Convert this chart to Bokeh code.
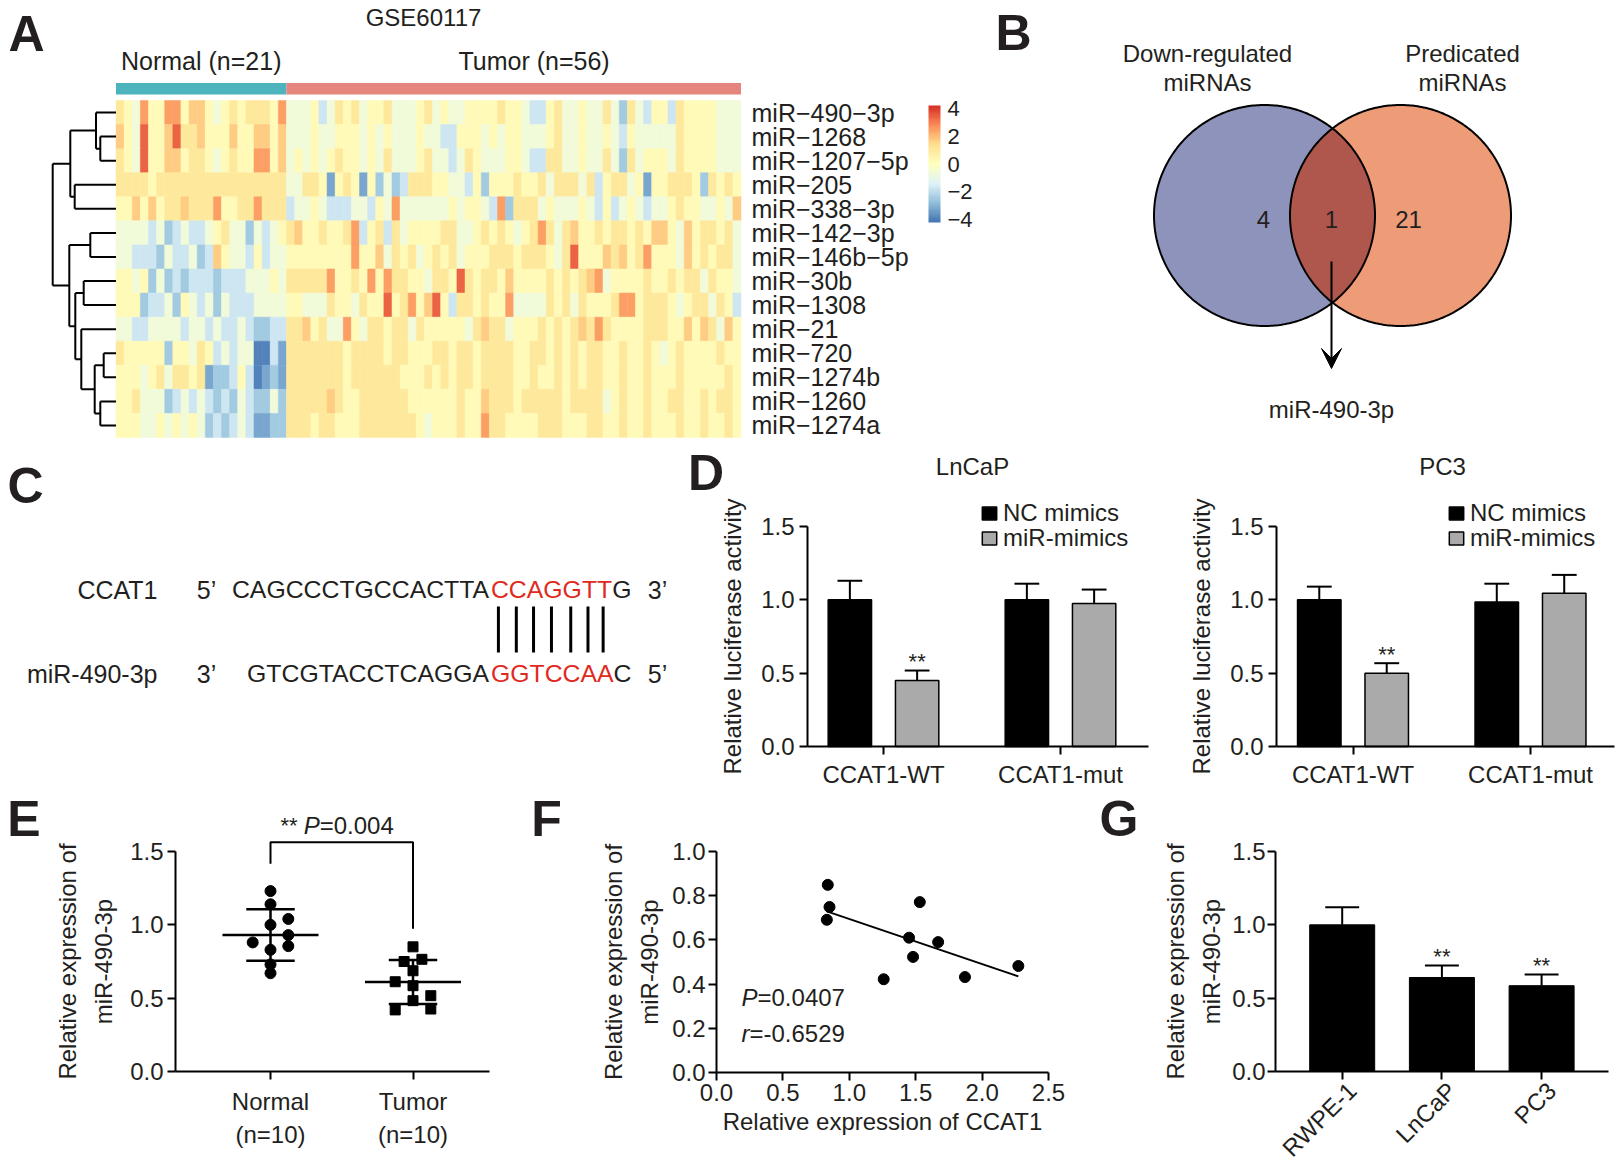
import numpy as np
from bokeh.plotting import figure
from bokeh.models import (Range1d, FixedTicker, PrintfTickFormatter, Label, Legend,
                          LegendItem, LinearColorMapper, ColorBar, Arrow, VeeHead,
                          ColumnDataSource, LinearAxis, AllLabels)
from bokeh.layouts import row, column
from bokeh.embed import file_html
from bokeh.resources import INLINE
from bokeh.core.properties import value

FONT = "Liberation Sans"
INK = "#231F20"
RED = "#E02A1E"

# ======================= DATA =======================
# --- A: heatmap (GSE60117) ---
dataset_id = "GSE60117"
group_names = ["Normal", "Tumor"]
group_sizes = [21, 56]
group_colors = ["#4DB3BD", "#E6857D"]
mirna_rows = ["miR−490−3p", "miR−1268", "miR−1207−5p", "miR−205", "miR−338−3p",
              "miR−142−3p", "miR−146b−5p", "miR−30b", "miR−1308", "miR−21",
              "miR−720", "miR−1274b", "miR−1260", "miR−1274a"]
# one character per sample (21 normal + 56 tumour)
heat_codes = [
    "654855885775456566658" "44453465645564445645" "445555655433564454" "464264355365555444",
    "754955796675557557757" "44454455545454445443" "355545455444564454" "454354444465555444",
    "654955775665456558857" "45454565545464445644" "346544455433664454" "464264555465555444",
    "666656666666666666666" "44665156515242366655" "443525556556466646" "356645155666526565",
    "557575667666855668666" "34454333443548444444" "545543826664544454" "353454344565544547",
    "444434234334564424345" "67556556835636455556" "644565654568646755" "656656577547566564",
    "443332433423754435344" "55555555855746564565" "645556665666546955" "576756855547565664",
    "554524232333233344454" "66666855658586655466" "596566575555656567" "845555655656646554",
    "555233425434243334444" "55444655465595685795" "366565584444656465" "556885666545664653",
    "443344443443433432233" "66756448546656646555" "554676645556565676" "865555666557576475",
    "655555255465343440031" "66666665666656655566" "566566665566565656" "655655654565555655",
    "555456466561223530121" "66666665666666555656" "566566665565565656" "655655655565555565",
    "556444234343232432242" "66666765566666655555" "565576665666665666" "645655655665565665",
    "555445454542323431122" "66656655566666665455" "565586655556665556" "655655655565565565",
]
code_values = {"0": -3.9, "1": -3.2, "2": -2.5, "3": -1.7, "4": -0.6,
               "5": 0.2, "6": 1.05, "7": 1.7, "8": 2.5, "9": 3.4}
# row dendrogram: (child a, child b, merge height); leaves 0..13, new nodes 14..
dendro_merges = [(1, 2, 15.7), (0, 14, 20.0), (3, 4, 41.3), (15, 16, 45.7),
                 (5, 6, 25.7), (7, 8, 32.3), (10, 11, 12.3), (12, 13, 15.7),
                 (20, 21, 21.3), (9, 22, 34.7), (19, 23, 40.7), (18, 24, 46.7),
                 (17, 25, 63.3)]
colorbar_ticks = [-4, -2, 0, 2, 4]

# --- B: Venn ---
venn_sets = ["Down-regulated\nmiRNAs", "Predicated\nmiRNAs"]
venn_counts = [4, 1, 21]          # only A, both, only B
venn_hit = "miR-490-3p"

# --- C: binding site ---
ccat1_name = "CCAT1"
ccat1_seq = "CAGCCCTGCCACTTACCAGGTTG"
ccat1_seed = (15, 22)
mir_name = "miR-490-3p"
mir_seq = "GTCGTACCTCAGGAGGTCCAAC"
mir_seed = (14, 21)

# --- D: luciferase ---
d_groups = ["CCAT1-WT", "CCAT1-mut"]
d_series = ["NC mimics", "miR-mimics"]
lncap_nc = [1.00, 1.00]
lncap_nc_sd = [0.13, 0.11]
lncap_mir = [0.45, 0.975]
lncap_mir_sd = [0.068, 0.095]
lncap_sig = ["**", ""]
pc3_nc = [1.00, 0.985]
pc3_nc_sd = [0.09, 0.125]
pc3_mir = [0.50, 1.045]
pc3_mir_sd = [0.068, 0.125]
pc3_sig = ["**", ""]

# --- E: tissue expression ---
e_labels = ["Normal\n(n=10)", "Tumor\n(n=10)"]
e_normal = [1.23, 1.14, 1.04, 1.00, 0.93, 0.88, 0.855, 0.83, 0.73, 0.67]
e_normal_slot = [0, 0, 2, 0, 2, -2, 2, 0, 0, 0]
e_tumor = [0.85, 0.75, 0.765, 0.687, 0.612, 0.585, 0.517, 0.483, 0.42, 0.426]
e_tumor_slot = [0, -1, 1, 0, -2, 0, 2, 0, -2, 2]
e_sig = "**"
e_pvalue = "0.004"

# --- F: correlation ---
f_ccat1 = [0.838, 0.851, 0.831, 1.531, 1.450, 1.669, 1.480, 1.259, 1.871, 2.273]
f_mir = [0.849, 0.749, 0.691, 0.771, 0.610, 0.590, 0.523, 0.422, 0.432, 0.482]
f_p = "0.0407"
f_r = "-0.6529"

# --- G: cell lines ---
g_cells = ["RWPE-1", "LnCaP", "PC3"]
g_mean = [1.00, 0.641, 0.585]
g_sd = [0.12, 0.082, 0.077]
g_sig = ["", "**", "**"]

# ======================= HELPERS =======================
ARIAL = {"A": .667, "C": .722, "G": .778, "T": .611, " ": .278, "*": .389, "P": .667,
         "=": .584, ".": .278, "-": .333, "r": .333}
ROW2_TOP, ROW3_TOP, BOTTOM = 445, 789, 1167
STAR_GAP = 0.06


def tw(s, fs):
    return sum(ARIAL.get(ch, .556) for ch in s) * fs


def canvas_fig(width, height, xr, yr):
    return figure(width=width, height=height, x_range=xr, y_range=yr,
                  x_axis_type=None, y_axis_type=None, output_backend="svg",
                  toolbar_location=None, min_border=0, outline_line_color=None,
                  background_fill_color="white", border_fill_color="white")


def chart(fig_l, fig_r, fig_t, fig_b, xref0, xval0, pxx, yref0, pxy):
    """Figure whose frame is the whole box; data <-> reference-pixel mapping."""
    xr = Range1d(xval0 + (fig_l - xref0) / pxx, xval0 + (fig_r - xref0) / pxx)
    yr = Range1d((yref0 - fig_b) / pxy, (yref0 - fig_t) / pxy)
    p = canvas_fig(int(fig_r - fig_l), int(fig_b - fig_t), xr, yr)

    def fx(r):
        return xval0 + (r - xref0) / pxx

    def fy(r):
        return (yref0 - r) / pxy
    return p, fx, fy


def style_axis(ax, fs="24px"):
    ax.axis_line_width = 2
    ax.axis_line_color = "black"
    ax.major_tick_line_width = 2
    ax.major_tick_line_color = "black"
    ax.major_tick_out = 8
    ax.major_tick_in = 0
    ax.minor_tick_line_color = None
    ax.major_label_text_font = FONT
    ax.major_label_text_font_size = fs
    ax.major_label_text_color = INK
    ax.major_label_text_line_height = 1.25
    ax.axis_label_text_font = FONT
    ax.axis_label_text_font_size = "24px"
    ax.axis_label_text_font_style = "normal"
    ax.axis_label_text_color = INK
    ax.axis_label_text_line_height = 1.35


def add_axes(p, x_at, x_bounds, xticks, y_at, y_bounds, yticks):
    xa = LinearAxis(fixed_location=x_at, bounds=x_bounds, ticker=FixedTicker(ticks=xticks))
    ya = LinearAxis(fixed_location=y_at, bounds=y_bounds, ticker=FixedTicker(ticks=yticks),
                    formatter=PrintfTickFormatter(format="%.1f"))
    style_axis(xa)
    style_axis(ya)
    p.add_layout(xa, "below")
    p.add_layout(ya, "left")
    return xa, ya


def txt(p, x, y, text, size="24px", align="center", baseline="middle",
        color=INK, style="normal", angle=0.0):
    p.text(x=list(x), y=list(y), text=list(text), text_font=value(FONT),
           text_font_size=value(size), text_align=align, text_baseline=baseline,
           text_color=color, text_font_style=style, angle=angle)


def lab(p, x, y, text, size="24px", align="center", baseline="middle",
        style="normal", xoff=0):
    p.add_layout(Label(x=x, y=y, text=text, text_font=FONT, text_font_size=size,
                       text_align=align, text_baseline=baseline, text_color=INK,
                       text_font_style=style, x_offset=xoff))


def legend1(p, label, rend, x, y):
    p.add_layout(Legend(items=[LegendItem(label=label, renderers=[rend])],
                        location=(x, y), padding=0, margin=0, spacing=0,
                        glyph_width=18, glyph_height=16, label_standoff=5,
                        label_text_font=FONT, label_text_font_size="24px",
                        label_text_color=INK, background_fill_alpha=0,
                        border_line_color=None))


# palette (RdYlBu, reversed)
rdylbu = ["#4575B4", "#91BFDB", "#E0F3F8", "#FFFFBF", "#FEE090", "#FC8D59", "#D73027"]
anchors = np.array([[int(c[i:i + 2], 16) for i in (1, 3, 5)] for c in rdylbu], float)
pal = []
for v in np.linspace(0, 6, 100):
    i = min(int(v), 5)
    f = v - i
    c = anchors[i] * (1 - f) + anchors[i + 1] * f
    pal.append("#%02X%02X%02X" % tuple(int(round(q)) for q in c))
mapper = LinearColorMapper(palette=pal, low=-4.2, high=4.2)

# ======================= A =======================
CW, RH = 8.117, 24.07
HX0, HY0 = 115.5, 100.0


def axa(r):
    return (r - HX0) / CW


def aya(r):
    return (r - HY0) / RH


pa = canvas_fig(978, ROW2_TOP, Range1d(axa(0), axa(978)), Range1d(aya(ROW2_TOP), aya(0)))
n_cols = sum(group_sizes)
xs, ys, vs = [], [], []
for r, codes in enumerate(heat_codes):
    for c, ch in enumerate(codes[:n_cols]):
        xs.append(c + 0.5)
        ys.append(r + 0.5)
        vs.append(code_values[ch])
src = ColumnDataSource(dict(x=xs, y=ys, v=vs))
pa.rect(x="x", y="y", width=1, height=1, source=src,
        fill_color={"field": "v", "transform": mapper},
        line_color={"field": "v", "transform": mapper}, line_width=0.5)

starts = np.cumsum([0] + group_sizes[:-1])
bar_c = [s + n / 2 for s, n in zip(starts, group_sizes)]
pa.rect(x=bar_c, y=[aya(88.25)] * 2, width=group_sizes, height=[11.5 / RH] * 2,
        fill_color=group_colors, line_color=None)
nudge = [0, 2.5]
txt(pa, [c + d for c, d in zip(bar_c, nudge)], [aya(60)] * 2,
    [f"{g} (n={n})" for g, n in zip(group_names, group_sizes)], size="25px")
txt(pa, [axa(423)], [aya(17)], [dataset_id], size="24px")
txt(pa, [n_cols + 10.5 / CW] * len(mirna_rows), [i + 0.5 for i in range(len(mirna_rows))],
    mirna_rows, size="25px", align="left")

# dendrogram
node_y = {i: i + 0.5 for i in range(len(mirna_rows))}
node_h = {i: 0.0 for i in range(len(mirna_rows))}
x0s, y0s, x1s, y1s = [], [], [], []
for k, (a, b, h) in enumerate(dendro_merges):
    nid = len(mirna_rows) + k
    hx = -h / CW
    x0s += [hx, -node_h[a] / CW, -node_h[b] / CW]
    x1s += [hx, hx, hx]
    y0s += [node_y[a], node_y[a], node_y[b]]
    y1s += [node_y[b], node_y[a], node_y[b]]
    node_y[nid] = (node_y[a] + node_y[b]) / 2
    node_h[nid] = h
pa.segment(x0=x0s, y0=y0s, x1=x1s, y1=y1s, line_color="black", line_width=2)

cb = ColorBar(color_mapper=mapper, location=(928, ROW2_TOP - 222), width=12, height=117,
              padding=0, margin=0, ticker=FixedTicker(ticks=colorbar_ticks),
              major_label_overrides={t: str(t).replace("-", "−") for t in colorbar_ticks},
              major_label_policy=AllLabels(),
              major_tick_line_color=None, label_standoff=7, bar_line_color=None,
              border_line_color=None, background_fill_color=None,
              major_label_text_font=FONT, major_label_text_font_size="22px",
              major_label_text_color=INK)
pa.add_layout(cb)
txt(pa, [axa(26)], [aya(33)], ["A"], size="50px", style="bold")

# ======================= B =======================
pb = canvas_fig(638, ROW2_TOP, Range1d(978, 1616), Range1d(ROW2_TOP, 0))
cxL, cxR, cy, rad = 1264.0, 1400.0, 215.0, 110.5
th = np.linspace(0, 2 * np.pi, 361)
pb.patch(cxL + rad * np.cos(th), cy + rad * np.sin(th), fill_color="#8E93BB", line_color=None)
pb.patch(cxR + rad * np.cos(th), cy + rad * np.sin(th), fill_color="#EE9B78", line_color=None)
al = np.arccos((cxR - cxL) / 2 / rad)
t1 = np.linspace(-al, al, 120)
t2 = np.linspace(np.pi - al, np.pi + al, 120)
pb.patch(np.concatenate([cxL + rad * np.cos(t1), cxR + rad * np.cos(t2)]),
         np.concatenate([cy + rad * np.sin(t1), cy + rad * np.sin(t2)]),
         fill_color="#AF574C", line_color=None)
for cx in (cxL, cxR):
    pb.line(cx + rad * np.cos(th), cy + rad * np.sin(th), line_color="black", line_width=2)
for name, x in zip(venn_sets, [1207, 1462]):
    lines = name.split("\n")
    txt(pb, [x] * len(lines), [53 + 29 * i for i in range(len(lines))], lines, size="24px")
txt(pb, [1263, 1331, 1408], [219] * 3, [str(c) for c in venn_counts], size="24px")
pb.add_layout(Arrow(end=VeeHead(size=20, fill_color="black", line_color="black", line_width=1),
                    x_start=1331, y_start=261, x_end=1331, y_end=368,
                    line_width=2, line_color="black"))
txt(pb, [1331], [409], [venn_hit], size="24px")
txt(pb, [1013], [32], ["B"], size="50px", style="bold")

# ======================= C =======================
pc = canvas_fig(680, ROW3_TOP - ROW2_TOP, Range1d(0, 680), Range1d(ROW3_TOP, ROW2_TOP))
SEQ_FS = 24.8
x_end = 631.0
for seq, seed, yv in [(ccat1_seq, ccat1_seed, 589), (mir_seq, mir_seed, 673)]:
    pieces = [(seq[:seed[0]], INK), (seq[seed[0]:seed[1]], RED), (seq[seed[1]:], INK)]
    xl = x_end - tw(seq, SEQ_FS)
    for s, col in pieces:
        txt(pc, [xl], [yv], [s], size=f"{SEQ_FS}px", align="left", color=col)
        xl += tw(s, SEQ_FS)
red_left = x_end - tw(ccat1_seq[ccat1_seed[0]:], SEQ_FS)
centers = []
acc = red_left
for ch in ccat1_seq[ccat1_seed[0]:ccat1_seed[1]]:
    centers.append(acc + tw(ch, SEQ_FS) / 2 - 1.5)
    acc += tw(ch, SEQ_FS)
pc.segment(x0=centers, y0=[606] * len(centers), x1=centers, y1=[652] * len(centers),
           line_color="black", line_width=3)
txt(pc, [157, 157], [589, 673], [ccat1_name, mir_name], size="25px", align="right")
txt(pc, [206, 657, 206, 657], [589, 589, 673, 673], ["5’", "3’", "3’", "5’"], size="25px")
txt(pc, [25], [485.5], ["C"], size="50px", style="bold")


# ======================= D =======================
def make_d(fig_l, fig_r, axis_l, axis_r, tick_ref, spacing, title, nc, nc_sd, mir, mir_sd,
           sig, legend_ref_x, letter=None):
    p, fx, fy = chart(fig_l, fig_r, ROW2_TOP, ROW3_TOP, tick_ref, 0.0, spacing, 746.0, 220 / 1.5)
    gx = np.arange(len(d_groups))
    ncx = gx - 0.19
    mrx = gx + 0.19
    r_nc = p.vbar(x=ncx, top=nc, width=0.245, fill_color="black", line_color="black", line_width=1.5)
    r_mr = p.vbar(x=mrx, top=mir, width=0.245, fill_color="#AAAAAA", line_color="black", line_width=1.5)
    for xx, tops, sds in [(ncx, nc, nc_sd), (mrx, mir, mir_sd)]:
        hi = [t + s for t, s in zip(tops, sds)]
        p.segment(x0=xx, y0=tops, x1=xx, y1=hi, line_color="black", line_width=2)
        p.segment(x0=xx - 0.07, y0=hi, x1=xx + 0.07, y1=hi, line_color="black", line_width=2)
    sx = [x for x, s in zip(mrx, sig) if s]
    sy = [t + s + STAR_GAP for t, s, g in zip(mir, mir_sd, sig) if g]
    txt(p, sx, sy, [g for g in sig if g], size="22px", baseline="alphabetic")
    xa, ya = add_axes(p, 0, (fx(axis_l), fx(axis_r)), list(gx), fx(axis_l), (0, 1.5),
                      [0, 0.5, 1.0, 1.5])
    xa.major_label_overrides = {int(i): g for i, g in zip(gx, d_groups)}
    xa.major_label_standoff = 6
    ya.major_label_standoff = 5
    ya.axis_label = "Relative luciferase activity"
    ya.axis_label_standoff = 12
    lx = legend_ref_x - fig_l
    legend1(p, d_series[0], r_nc, lx, ROW3_TOP - 526.75)
    legend1(p, d_series[1], r_mr, lx, ROW3_TOP - 552.25)
    lab(p, fx(title[1]), fy(466), title[0])
    if letter:
        lab(p, fx(letter[1]), fy(472.5), letter[0], size="50px", style="bold")
    return p


pd1 = make_d(680, 1160, 807, 1148, 883.0, 177.0, ("LnCaP", 972), lncap_nc, lncap_nc_sd,
             lncap_mir, lncap_mir_sd, lncap_sig, 980, letter=("D", 705.5))
pd2 = make_d(1160, 1616, 1276, 1614, 1352.5, 177.5, ("PC3", 1442), pc3_nc, pc3_nc_sd,
             pc3_mir, pc3_mir_sd, pc3_sig, 1447)

# ======================= E =======================
pe, ex, ey = chart(0, 530, ROW3_TOP, BOTTOM, 270.0, 1.0, 142.5, 1071.0, 220 / 1.5)
slot_w = 0.0625
for k, (vals, slots, mk, sz) in enumerate([(e_normal, e_normal_slot, "circle", 11),
                                          (e_tumor, e_tumor_slot, "square", 10)]):
    cx = k + 1
    pe.scatter([cx + s * slot_w for s in slots], vals, marker=mk, size=sz,
               fill_color="black", line_color="black")
    m = float(np.mean(vals))
    sd = float(np.std(vals, ddof=1))
    pe.segment(x0=[cx - 0.337], y0=[m], x1=[cx + 0.337], y1=[m], line_color="black", line_width=2.5)
    pe.segment(x0=[cx - 0.17] * 2, y0=[m + sd, m - sd], x1=[cx + 0.17] * 2, y1=[m + sd, m - sd],
               line_color="black", line_width=2.5)
    pe.segment(x0=[cx], y0=[m - sd], x1=[cx], y1=[m + sd], line_color="black", line_width=2.5)
pe.line(x=[1, 1, 2, 2], y=[1.416, 1.563, 1.563, 0.973], line_color="black", line_width=2)
xa, ya = add_axes(pe, 0, (ex(175), ex(489)), [1, 2], ex(175), (0, 1.5), [0, 0.5, 1.0, 1.5])
xa.major_label_overrides = {1: e_labels[0], 2: e_labels[1]}
xa.major_label_standoff = 8
ya.major_label_standoff = 4
ya.axis_label = "Relative expression of\nmiR-490-3p"
ya.axis_label_standoff = 10
off = 0.0
for s, fs, st in [(e_sig + " ", 22, "normal"), ("P", 24, "italic"), ("=" + e_pvalue, 24, "normal")]:
    lab(pe, ex(280), ey(825), s, size=f"{fs}px", align="left", baseline="alphabetic",
        style=st, xoff=off)
    off += tw(s, fs)
lab(pe, ex(23.5), ey(818), "E", size="50px", style="bold")

# ======================= F =======================
pf, fxf, fyf = chart(530, 1085, ROW3_TOP, BOTTOM, 716.0, 0.0, 332 / 2.5, 1072.0, 221.0)
pf.scatter(f_ccat1, f_mir, marker="circle", size=11, fill_color="black", line_color="black")
slope, icpt = np.polyfit(f_ccat1, f_mir, 1)
xl = np.array([min(f_ccat1), max(f_ccat1)])
pf.line(xl, slope * xl + icpt, line_color="black", line_width=2)
xa, ya = add_axes(pf, 0, (0, 2.5), [0, 0.5, 1.0, 1.5, 2.0, 2.5], 0, (0, 1.0),
                  [0, 0.2, 0.4, 0.6, 0.8, 1.0])
xa.formatter = PrintfTickFormatter(format="%.1f")
xa.major_label_standoff = 3
xa.axis_label = "Relative expression of CCAT1"
xa.axis_label_standoff = 4
ya.major_label_standoff = 3
ya.axis_label = "Relative expression of\nmiR-490-3p"
ya.axis_label_standoff = 6
for sym, val, yref in [("P", f_p, 997.0), ("r", f_r, 1032.5)]:
    lab(pf, fxf(741), fyf(yref), sym, align="left", baseline="alphabetic", style="italic")
    lab(pf, fxf(741), fyf(yref), "=" + val, align="left", baseline="alphabetic",
        xoff=tw(sym, 24))
lab(pf, fxf(546), fyf(818), "F", size="50px", style="bold")

# ======================= G =======================
pg, gxf, gyf = chart(1085, 1616, ROW3_TOP, BOTTOM, 1341.7, 1.0, 99.7, 1071.0, 220 / 1.5)
gx = np.arange(1, len(g_cells) + 1)
pg.vbar(x=gx, top=g_mean, width=0.652, fill_color="black", line_color="black")
ghi = [m + s for m, s in zip(g_mean, g_sd)]
pg.segment(x0=gx, y0=g_mean, x1=gx, y1=ghi, line_color="black", line_width=2)
pg.segment(x0=gx - 0.17, y0=ghi, x1=gx + 0.17, y1=ghi, line_color="black", line_width=2)
txt(pg, [x for x, s in zip(gx, g_sig) if s], [h + STAR_GAP for h, s in zip(ghi, g_sig) if s],
    [s for s in g_sig if s], size="22px", baseline="alphabetic")
xa, ya = add_axes(pg, 0, (gxf(1275), gxf(1608)), list(gx), gxf(1275), (0, 1.5),
                  [0, 0.5, 1.0, 1.5])
xa.major_label_overrides = {int(i): "" for i in gx}
# rotated category labels, anchored at their right end just below each tick
txt(pg, [x + 10 / 99.7 for x in gx], [-15 / (220 / 1.5)] * len(gx), g_cells, size="24px",
    align="right", baseline="middle", angle=np.pi / 4)
ya.major_label_standoff = 2
ya.axis_label = "Relative expression of\nmiR-490-3p"
ya.axis_label_standoff = 4
lab(pg, gxf(1118.5), gyf(818), "G", size="50px", style="bold")

layout = column(row(pa, pb), row(pc, pd1, pd2), row(pe, pf, pg))
open("out.html", "w").write(file_html(layout, INLINE))
